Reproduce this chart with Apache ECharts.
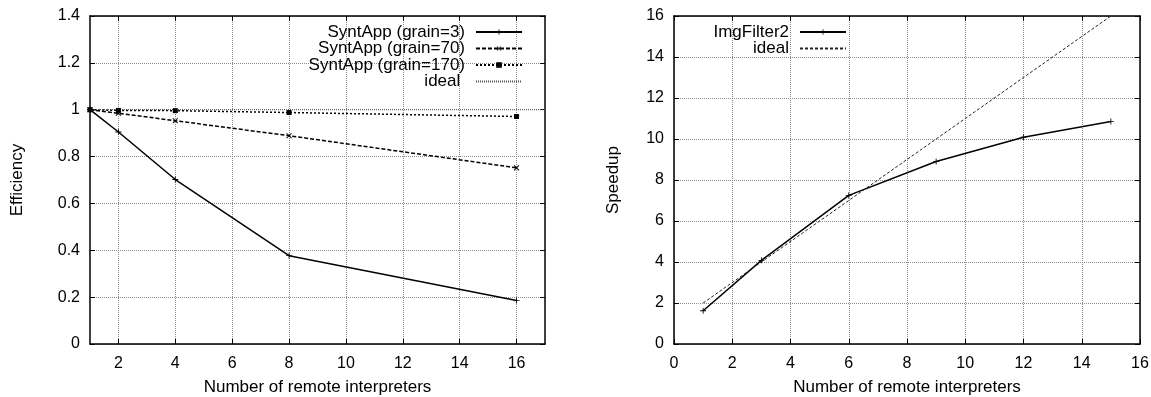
<!DOCTYPE html>
<html>
<head>
<meta charset="utf-8">
<script src="https://cdn.jsdelivr.net/npm/echarts@6/dist/echarts.min.js"></script>
<style>
  html, body { margin: 0; padding: 0; background: #fff; }
  #chart { width: 1151px; height: 397px; }
</style>
</head>
<body>
<div id="chart"></div>
<script>
// left panel: efficiency
const procs = [1, 2, 4, 8, 16];
const grain3 = [1.0, 0.905, 0.702, 0.377, 0.186];
const grain70 = [1.0, 0.985, 0.953, 0.889, 0.752];
const grain170 = [1.0, 0.997, 0.996, 0.988, 0.971];
const effIdealX = [1, 17];
const effIdealY = [1, 1];
const effTicks = [2, 4, 6, 8, 10, 12, 14, 16];

// right panel: speedup
const imgProcs = [1, 3, 6, 9, 12, 15];
const imgFilter2 = [1.62, 4.08, 7.25, 8.9, 10.09, 10.85];
const speedIdeal = [2, 4, 7, 10, 13, 16];

const zip = (xs, ys) => xs.map((x, i) => [x, ys[i]]);

const font = 'Liberation Sans';
const black = '#000';
const plus = 'path://M-1,-0.14H1V0.14H-1Z M-0.14,-1H0.14V1H-0.14Z';
const grid = { type: [1, 1], color: '#8c8c8c', width: 1 };
const label = { color: black, fontFamily: font, fontSize: 16 };
const nameStyle = { color: black, fontFamily: font, fontSize: 17 };
const legendText = { color: black, fontFamily: font, fontSize: 17, lineHeight: 15, padding: [0, 6, 0, 0] };
const noMark = { color: 'transparent', borderWidth: 0 };

function bottomX(gridIndex, extra) {
  return Object.assign({
    type: 'value', gridIndex, position: 'bottom',
    name: 'Number of remote interpreters', nameLocation: 'middle', nameGap: 35,
    nameTextStyle: nameStyle,
    axisLine: { show: true, onZero: false, lineStyle: { color: black, width: 1.5 } },
    axisTick: { show: true, inside: true, length: 5, lineStyle: { color: black } },
    axisLabel: Object.assign({ margin: 12 }, label),
    splitLine: { show: true, lineStyle: grid }
  }, extra);
}
function topX(gridIndex, extra) {
  return Object.assign({
    type: 'value', gridIndex, position: 'top',
    axisLine: { show: true, onZero: false, lineStyle: { color: black, width: 1.5 } },
    axisTick: { show: true, inside: true, length: 5, lineStyle: { color: black } },
    axisLabel: { show: false },
    splitLine: { show: false }
  }, extra);
}
function leftY(gridIndex, name, gap, extra) {
  return Object.assign({
    type: 'value', gridIndex, position: 'left',
    name, nameLocation: 'middle', nameGap: gap, nameTextStyle: nameStyle,
    axisLine: { show: true, onZero: false, lineStyle: { color: black, width: 1.5 } },
    axisTick: { show: true, inside: true, length: 5, lineStyle: { color: black } },
    axisLabel: Object.assign({ margin: 10 }, label),
    splitLine: { show: true, lineStyle: grid }
  }, extra);
}
function rightY(gridIndex, extra) {
  return Object.assign({
    type: 'value', gridIndex, position: 'right',
    axisLine: { show: true, onZero: false, lineStyle: { color: black, width: 1.5 } },
    axisTick: { show: true, inside: true, length: 5, lineStyle: { color: black } },
    axisLabel: { show: false },
    splitLine: { show: false }
  }, extra);
}

const effX = { min: 1, max: 17, axisTick: { show: true, inside: true, length: 5, customValues: effTicks, lineStyle: { color: black } } };

const chart = echarts.init(document.getElementById('chart'), null, { renderer: 'canvas' });
chart.setOption({
  animation: false,
  backgroundColor: '#fff',
  grid: [
    { left: 90, right: 606, top: 16, bottom: 53, outerBoundsMode: 'none' },
    { left: 674, right: 11, top: 16, bottom: 53, outerBoundsMode: 'none' }
  ],
  xAxis: [
    bottomX(0, Object.assign({}, effX, { axisLabel: Object.assign({ margin: 12, customValues: effTicks }, label) })),
    bottomX(1, { min: 0, max: 16, interval: 2 }),
    topX(0, effX),
    topX(1, { min: 0, max: 16, interval: 2 })
  ],
  yAxis: [
    leftY(0, 'Efficiency', 64, { min: 0, max: 1.4, interval: 0.2 }),
    leftY(1, 'Speedup', 52, { min: 0, max: 16, interval: 2 }),
    rightY(0, { min: 0, max: 1.4, interval: 0.2 }),
    rightY(1, { min: 0, max: 16, interval: 2 })
  ],
  legend: [
    {
      orient: 'vertical', right: 628, top: 23.5, align: 'right', padding: 0,
      itemWidth: 46, itemHeight: 7, itemGap: -0.5,
      textStyle: legendText,
      data: ['SyntApp (grain=3)', 'SyntApp (grain=70)', 'SyntApp (grain=170)',
        { name: 'ideal ', itemStyle: noMark }]
    },
    {
      orient: 'vertical', right: 304, top: 23.5, align: 'right', padding: 0,
      itemWidth: 46, itemHeight: 7, itemGap: -0.5,
      textStyle: legendText,
      data: ['ImgFilter2', { name: 'ideal', itemStyle: noMark }]
    }
  ],
  series: [
    {
      name: 'SyntApp (grain=3)', type: 'line', xAxisIndex: 0, yAxisIndex: 0,
      data: zip(procs, grain3), symbol: plus, symbolSize: 6,
      lineStyle: { color: black, width: 1.5 }, itemStyle: { color: black }
    },
    {
      name: 'SyntApp (grain=70)', type: 'line', xAxisIndex: 0, yAxisIndex: 0,
      data: zip(procs, grain70), symbol: plus, symbolSize: 7, symbolRotate: 45,
      lineStyle: { color: black, width: 1.5, type: [4, 2] }, itemStyle: { color: black }
    },
    {
      name: 'SyntApp (grain=170)', type: 'line', xAxisIndex: 0, yAxisIndex: 0,
      data: zip(procs, grain170), symbol: 'rect', symbolSize: 5,
      lineStyle: { color: black, width: 1.5, type: [2, 2] }, itemStyle: { color: black }
    },
    {
      name: 'ideal ', type: 'line', xAxisIndex: 0, yAxisIndex: 0,
      data: zip(effIdealX, effIdealY), symbol: 'none',
      lineStyle: { color: '#555', width: 1, type: [1, 1] }, itemStyle: { color: '#555' }
    },
    {
      name: 'ImgFilter2', type: 'line', xAxisIndex: 1, yAxisIndex: 1,
      data: zip(imgProcs, imgFilter2), symbol: plus, symbolSize: 6,
      lineStyle: { color: black, width: 1.5 }, itemStyle: { color: black }
    },
    {
      name: 'ideal', type: 'line', xAxisIndex: 1, yAxisIndex: 1,
      data: zip(imgProcs, speedIdeal), symbol: 'none',
      lineStyle: { color: '#222', width: 1, type: [3, 2] }, itemStyle: { color: '#222' }
    }
  ]
});
</script>
</body>
</html>
